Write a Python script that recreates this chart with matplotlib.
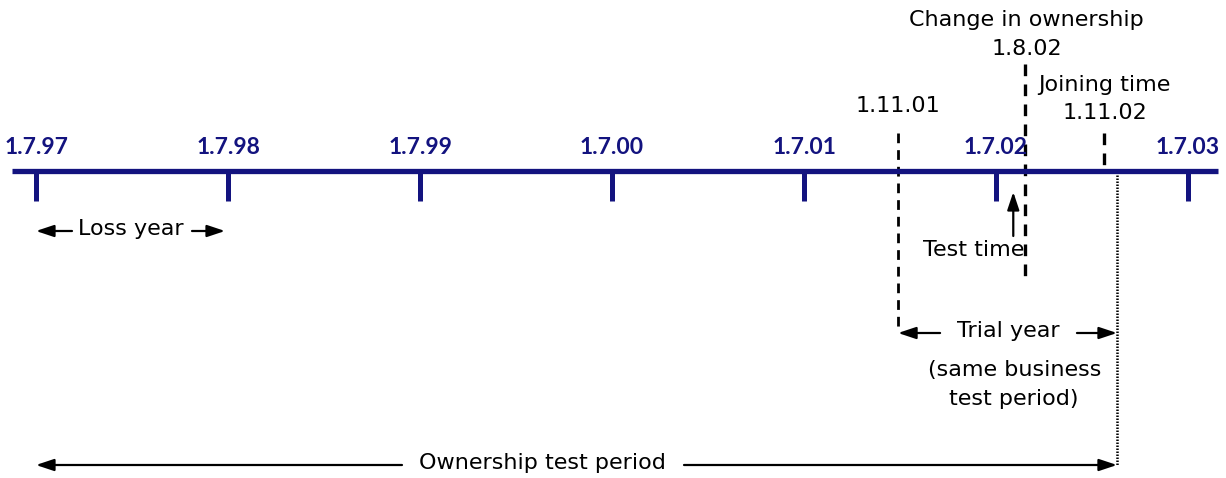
import matplotlib
matplotlib.use("Agg")
import matplotlib.pyplot as plt

# ---- data (positions in "year" units along the drawn timeline; diagram not to scale) ----
tick_labels = ["1.7.97", "1.7.98", "1.7.99", "1.7.00", "1.7.01", "1.7.02", "1.7.03"]
tick_pos = [1997.5, 1998.5, 1999.5, 2000.5, 2001.5, 2002.5, 2003.5]
event_labels = ["1.11.01", "1.8.02", "1.11.02"]
event_pos = [2001.99, 2002.65, 2003.06]
test_time_pos = 2002.59
ownership_end = 2003.13

NAVY = "#13137f"

fig = plt.figure(figsize=(12.26, 4.78), dpi=100)
ax = fig.add_axes([0, 0, 1, 1])
ax.set_xlim(1997.5 - 36 / 192, 1997.5 + 1190 / 192)
ax.set_ylim(478, 0)
ax.axis("off")

FONT = "DejaVu Sans"
FS = 16
px = 1 / 192  # one pixel in year units

# main timeline
ax.plot([1997.5 - 24 * px, 2003.5 + 30 * px], [171, 171], color=NAVY, lw=3.8, solid_capstyle="butt", zorder=3)
for p, lab in zip(tick_pos, tick_labels):
    ax.plot([p, p], [171, 201], color=NAVY, lw=3.6, solid_capstyle="butt", zorder=3)
    ax.text(p, 147, lab, color=NAVY, fontsize=16.5, fontweight="bold", ha="center", va="center", family="Lato")

# dashed event lines
ax.plot([event_pos[0]] * 2, [133, 333], color="black", lw=2, ls=(0, (3.5, 2.5)), zorder=2)
ax.plot([event_pos[1]] * 2, [64, 282], color="black", lw=2.4, ls=(0, (3.5, 2.5)), zorder=2)
ax.plot([event_pos[2]] * 2, [133, 169], color="black", lw=2.4, ls=(0, (3.5, 2.5)), zorder=2)
# dotted ownership end line
ax.plot([ownership_end] * 2, [169, 466], color="black", lw=1.8, ls=(0, (0.6, 0.6)), zorder=2)

# event labels
ax.text(event_pos[0], 106, event_labels[0], fontsize=FS, ha="center", va="center", family=FONT)
ax.text(event_pos[1] + 2 * px, 20, "Change in ownership", fontsize=FS, ha="center", va="center", family=FONT)
ax.text(event_pos[1] + 2 * px, 49, event_labels[1], fontsize=FS, ha="center", va="center", family=FONT)
ax.text(event_pos[2] + 1 * px, 85, "Joining time", fontsize=FS, ha="center", va="center", family=FONT)
ax.text(event_pos[2] + 1 * px, 113, event_labels[2], fontsize=FS, ha="center", va="center", family=FONT)

arrow_kw = dict(arrowstyle="-|>,head_length=0.9,head_width=0.3", color="black", lw=1.6,
                mutation_scale=12, shrinkA=0, shrinkB=0)

# test time
ax.annotate("", xy=(test_time_pos, 192), xytext=(test_time_pos, 236), arrowprops=arrow_kw)
ax.text(test_time_pos - 40 * px, 250, "Test time", fontsize=FS, ha="center", va="center", family=FONT)

# loss year
ax.annotate("", xy=(tick_pos[0], 231), xytext=(tick_pos[0] + 36 * px, 231), arrowprops=arrow_kw)
ax.annotate("", xy=(tick_pos[1] - 3 * px, 231), xytext=(tick_pos[1] - 36 * px, 231), arrowprops=arrow_kw)
ax.text((tick_pos[0] + tick_pos[1]) / 2 - 1 * px, 229, "Loss year", fontsize=FS, ha="center", va="center", family=FONT)

# trial year
ax.annotate("", xy=(event_pos[0], 333), xytext=(event_pos[0] + 42 * px, 333), arrowprops=arrow_kw)
ax.annotate("", xy=(ownership_end, 333), xytext=(ownership_end - 40 * px, 333), arrowprops=arrow_kw)
ax.text(event_pos[0] + 110 * px, 331, "Trial year", fontsize=FS, ha="center", va="center", family=FONT)
ax.text(event_pos[0] + 117 * px, 370, "(same business", fontsize=FS, ha="center", va="center", family=FONT)
ax.text(event_pos[0] + 116 * px, 399, "test period)", fontsize=FS, ha="center", va="center", family=FONT)

# ownership test period
ax.annotate("", xy=(tick_pos[0], 465), xytext=(tick_pos[0] + 366 * px, 465), arrowprops=arrow_kw)
ax.annotate("", xy=(ownership_end, 465), xytext=(tick_pos[0] + 648 * px, 465), arrowprops=arrow_kw)
ax.text(tick_pos[0] + 506 * px, 463, "Ownership test period", fontsize=FS, ha="center", va="center", family=FONT)

fig.savefig("out.png", dpi=100)
